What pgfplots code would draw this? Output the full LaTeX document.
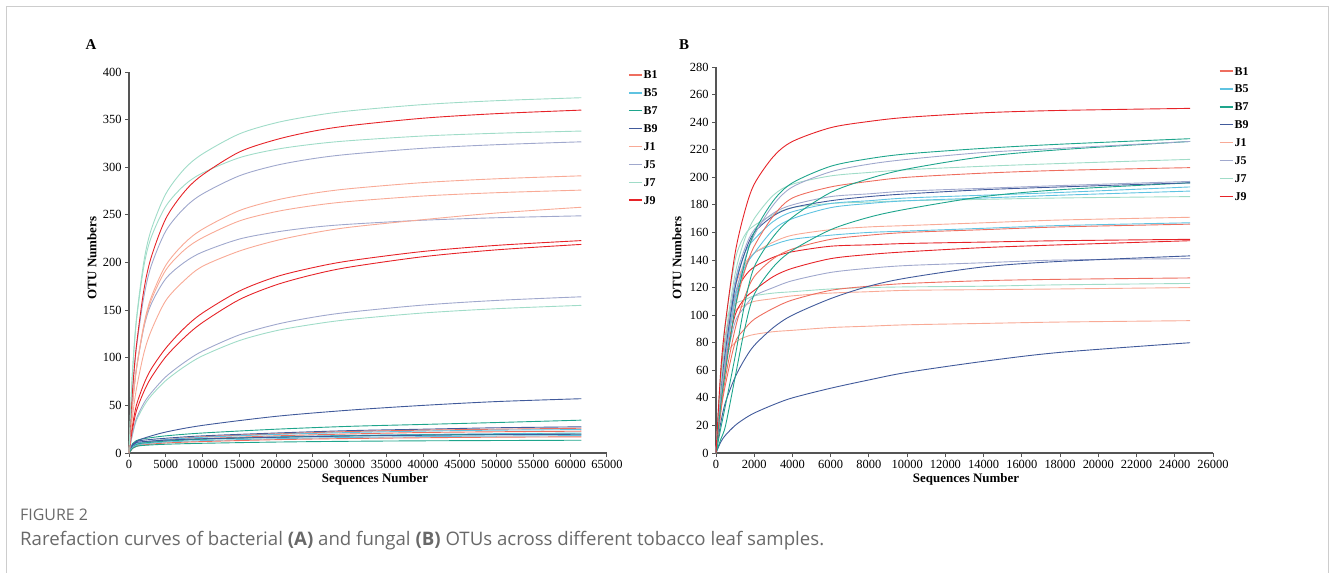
\documentclass[border=0pt]{standalone}
\usepackage{fontspec}
\setmainfont{Liberation Serif}
\newfontfamily\capfont{Open Sans}
\usepackage{pgfplots}
\pgfplotsset{compat=1.18}
\usepackage{pgfplotstable}
\definecolor{cB1}{RGB}{238,110,95}
\definecolor{cB5}{RGB}{95,195,225}
\definecolor{cB7}{RGB}{30,165,140}
\definecolor{cB9}{RGB}{65,90,155}
\definecolor{cJ1}{RGB}{248,170,150}
\definecolor{cJ5}{RGB}{160,168,205}
\definecolor{cJ7}{RGB}{160,220,200}
\definecolor{cJ9}{RGB}{230,35,40}
\definecolor{axgray}{RGB}{85,85,85}
\definecolor{framegray}{RGB}{205,205,205}
\definecolor{capgray}{RGB}{105,105,105}

% Panel A, high (J) curves
\pgfplotstableread{
x J7a J9a J7b J5a J1a J1b J1c J5b J9b J9c J5c J7c
0 0 0 0 0 0 0 0 0 0 0 0 0
250 50 38 50 38 30 30 22 30 18 15 12 11
500 88 68 88 67 53 53 40 53 30 26 21 20
1000 140 112 138 110 88 87 67 88 50 44 36 34
2000 200 170 195 163 134 132 104 131 72 64 52 49
3000 234 205 226 196 163 160 128 156 88 79 63 60
5000 272 246 259 233 197 192 160 183 110 101 80 76
7500 298 274 281 257 220 213 181 200 131 121 95 90.5
10000 314 292 294 272 235 226 196 211 147 137 107 102
15000 335 316 310 291 254.5 243.6 212 224.6 170 161 124 118
20000 346.7 329 318.8 302 265.5 253.4 223 232 185 176.5 135 128.4
25000 354 337.8 324.2 309 272.6 259.7 231 237 194.6 187.2 142.5 135.1
30000 359.2 343.7 327.9 313.7 277.5 264.1 237 240.2 201.8 195.2 147.9 140.2
40000 365.8 351.5 332.8 319.9 283.9 269.8 245 244.4 211.6 206.1 155.3 147
50000 369.9 356.3 335.7 323.7 287.9 273.3 252 247 218 213.3 160.2 151.5
61500 373 360 338 326.7 291 276 258 249 223 219 164 155
}\tAhigh

% Panel A, low (B) curves
\pgfplotstableread{
x B7a B9a B9b B1a B5a B1b B5b B7b B9c B5c B1c B7c
0 0 0 0 0 0 0 0 0 0 0 0 0
500 10 8 9 7 7 6 7 6 8 6 5 5
1000 13 12 12 9 10 8 9 9 11 8 7 7
2000 15 15.5 13.5 11 11.5 10 10.5 10.5 12 9.5 8.5 8
5000 18 22 15.5 14 14 12.5 12.5 12.5 13.5 11.5 10.5 9.2
10000 21 29 18 17 16.5 15 14.5 14.5 15 13 12 10.2
20000 25 38.5 21 20 19.5 18 17 16.5 16.5 15 14 11.5
30000 28 45 23.5 22.5 21.5 20 18.5 18 17.8 16.3 15.2 12.3
40000 30 50 25 24 23 21.5 19.5 19 18.6 17.2 16 12.8
50000 32 54 26.5 25 24 22.3 20.3 19.5 19.2 17.8 16.6 13.1
61500 34.5 57 27.5 26 24.6 22.9 21 20 19.7 18.3 17 13.4
}\tAlow

% Panel B
\pgfplotstableread{
x J9a B7a J5a B7b J7a B1a J5b B9a B7c B5a B5b J7b J1a B5c B1b J9b J9c B9b J5c B1c J7c J1b J1c B9c
0 0 0 0 0 0 0 0 0 0 0 0 0 0 0 0 0 0 0 0 0 0 0 0 0
250 60 35 40 18 50 35 50 45 10 45 40 60 45 40 30 55 40 22 40 30 55 50 45 8
500 95 60 68 35 85 62 80 75 20 75 70 95 80 70 55 85 68 37 65 50 95 85 70 13
1000 145 105 112 70 130 105 125 120 55 122 115 140 120 110 90 115 100 55 95 80 108 103 80 20
1500 175 138 140 108 155 132 148 145 90 145 135 158 137 133 113 128 112 68 106 90 111 107 84 25
2000 195 160 158 135 170 150 162 160 115 155 145 165 145 145 128 135 118 78 114 97 114 110 86 29
3000 215 183 180 157 187 172 174 172 135 168 162 173 153 151 141 142 128 91 120 105 116 112 88 35
4000 226 196 193 171 195 185 180 178 147 175 170 178 158 155 148 146 134 100 125 111 117 114 89 40
6000 236 208 204 189 201 193 186 183 162 181 178 181 162 158 155 150 141 112 131 118 119 116 91 47
8000 240.5 213.5 209.5 199 203.5 197 188 186 171 183 181 182 164 160 158 151 144 121 134 121 120 117 92 53
10000 243.5 217 213 206 205.5 200 190 188 177 185 183 183 165 161 160 152 146 127 136 123 120.5 118 93 58.5
14000 246.8 221 218 215 208 203 192 191 186 187 185 184 167 163 162 153 149 135 138 125 121 118.5 94 66.5
18000 248.5 224 221 220 210 205 194 193 191 189 187 185 169 165 164 154 151 139 140 126 122 119 95 73
24800 250 228 226 226 213 207 197 196 196 193 190 186 171 167 166 155 154 143 141 127 123 120 96 80
}\tB

\pgfplotsset{
  panel/.style={
    scale only axis, clip=false,
    axis lines=left,
    axis line style={-, draw=axgray, line width=1.1bp},
    tick style={draw=axgray, line width=1bp},
    major tick length=4bp, tick align=outside,
    ticklabel style={font=\fontsize{12.5}{12.5}\selectfont, text=black},
    /pgf/number format/assume math mode=true,
    /pgf/number format/1000 sep={},
    scaled x ticks=false, scaled y ticks=false,
    every axis plot/.append style={line width=0.9bp, mark=none, smooth, tension=0.5},
    legend cell align=left,
    legend style={draw=none, fill=none, inner sep=0pt, outer sep=0pt,
      font=\bfseries\fontsize{12}{12}\selectfont, row sep=7.5bp,
      nodes={inner sep=1.2bp, text height=8bp, text depth=0bp}},
    legend image code/.code={\draw[##1, line width=1.5bp, sharp plot] (0bp,0bp) -- (13bp,0bp);},
  }
}

\begin{document}
\begin{tikzpicture}
\useasboundingbox (0,0) rectangle (1330bp,-573bp);
\draw[framegray, line width=1bp] (6.5bp,-573bp) -- (6.5bp,-6.5bp) -- (1328.5bp,-6.5bp) -- (1328.5bp,-573bp);

% ---------------- Panel A ----------------
\begin{axis}[panel,
  at={(129bp,-453bp)}, anchor=south west,
  width=478bp, height=381bp,
  xmin=0, xmax=65000, ymin=0, ymax=400,
  xtick={0,5000,...,65000}, ytick={0,50,...,400},
  legend style={at={(1.044,1.006)}, anchor=north west},
]
\addlegendimage{cB1}\addlegendentry{B1}
\addlegendimage{cB5}\addlegendentry{B5}
\addlegendimage{cB7}\addlegendentry{B7}
\addlegendimage{cB9}\addlegendentry{B9}
\addlegendimage{cJ1}\addlegendentry{J1}
\addlegendimage{cJ5}\addlegendentry{J5}
\addlegendimage{cJ7}\addlegendentry{J7}
\addlegendimage{cJ9}\addlegendentry{J9}
\addplot[cB7, forget plot] table[x=x, y=B7a] {\tAlow};
\addplot[cB9, forget plot] table[x=x, y=B9a] {\tAlow};
\addplot[cB9, forget plot] table[x=x, y=B9b] {\tAlow};
\addplot[cB1, forget plot] table[x=x, y=B1a] {\tAlow};
\addplot[cB5, forget plot] table[x=x, y=B5a] {\tAlow};
\addplot[cB1, forget plot] table[x=x, y=B1b] {\tAlow};
\addplot[cB5, forget plot] table[x=x, y=B5b] {\tAlow};
\addplot[cB7, forget plot] table[x=x, y=B7b] {\tAlow};
\addplot[cB9, forget plot] table[x=x, y=B9c] {\tAlow};
\addplot[cB5, forget plot] table[x=x, y=B5c] {\tAlow};
\addplot[cB1, forget plot] table[x=x, y=B1c] {\tAlow};
\addplot[cB7, forget plot] table[x=x, y=B7c] {\tAlow};
\addplot[cJ7, forget plot] table[x=x, y=J7c] {\tAhigh};
\addplot[cJ5, forget plot] table[x=x, y=J5c] {\tAhigh};
\addplot[cJ9, forget plot] table[x=x, y=J9c] {\tAhigh};
\addplot[cJ9, forget plot] table[x=x, y=J9b] {\tAhigh};
\addplot[cJ5, forget plot] table[x=x, y=J5b] {\tAhigh};
\addplot[cJ1, forget plot] table[x=x, y=J1c] {\tAhigh};
\addplot[cJ1, forget plot] table[x=x, y=J1b] {\tAhigh};
\addplot[cJ1, forget plot] table[x=x, y=J1a] {\tAhigh};
\addplot[cJ5, forget plot] table[x=x, y=J5a] {\tAhigh};
\addplot[cJ7, forget plot] table[x=x, y=J7b] {\tAhigh};
\addplot[cJ9, forget plot] table[x=x, y=J9a] {\tAhigh};
\addplot[cJ7, forget plot] table[x=x, y=J7a] {\tAhigh};
\end{axis}

% ---------------- Panel B ----------------
\begin{axis}[panel,
  at={(716bp,-453bp)}, anchor=south west,
  width=497bp, height=386bp,
  xmin=0, xmax=26000, ymin=0, ymax=280,
  xtick={0,2000,...,26000}, ytick={0,20,...,280},
  legend style={at={(1.012,1.003)}, anchor=north west},
]
\addlegendimage{cB1}\addlegendentry{B1}
\addlegendimage{cB5}\addlegendentry{B5}
\addlegendimage{cB7}\addlegendentry{B7}
\addlegendimage{cB9}\addlegendentry{B9}
\addlegendimage{cJ1}\addlegendentry{J1}
\addlegendimage{cJ5}\addlegendentry{J5}
\addlegendimage{cJ7}\addlegendentry{J7}
\addlegendimage{cJ9}\addlegendentry{J9}
\addplot[cB9, forget plot] table[x=x, y=B9c] {\tB};
\addplot[cJ1, forget plot] table[x=x, y=J1c] {\tB};
\addplot[cJ1, forget plot] table[x=x, y=J1b] {\tB};
\addplot[cJ7, forget plot] table[x=x, y=J7c] {\tB};
\addplot[cB1, forget plot] table[x=x, y=B1c] {\tB};
\addplot[cJ5, forget plot] table[x=x, y=J5c] {\tB};
\addplot[cB9, forget plot] table[x=x, y=B9b] {\tB};
\addplot[cJ9, forget plot] table[x=x, y=J9c] {\tB};
\addplot[cJ9, forget plot] table[x=x, y=J9b] {\tB};
\addplot[cB1, forget plot] table[x=x, y=B1b] {\tB};
\addplot[cB5, forget plot] table[x=x, y=B5c] {\tB};
\addplot[cJ1, forget plot] table[x=x, y=J1a] {\tB};
\addplot[cJ7, forget plot] table[x=x, y=J7b] {\tB};
\addplot[cB5, forget plot] table[x=x, y=B5b] {\tB};
\addplot[cB5, forget plot] table[x=x, y=B5a] {\tB};
\addplot[cB7, forget plot] table[x=x, y=B7c] {\tB};
\addplot[cB9, forget plot] table[x=x, y=B9a] {\tB};
\addplot[cJ5, forget plot] table[x=x, y=J5b] {\tB};
\addplot[cB1, forget plot] table[x=x, y=B1a] {\tB};
\addplot[cJ7, forget plot] table[x=x, y=J7a] {\tB};
\addplot[cB7, forget plot] table[x=x, y=B7b] {\tB};
\addplot[cJ5, forget plot] table[x=x, y=J5a] {\tB};
\addplot[cB7, forget plot] table[x=x, y=B7a] {\tB};
\addplot[cJ9, forget plot] table[x=x, y=J9a] {\tB};
\end{axis}

% ---------------- Labels ----------------
\node[font=\bfseries\fontsize{15}{15}\selectfont] at (91bp,-45bp) {A};
\node[font=\bfseries\fontsize{15}{15}\selectfont] at (684bp,-45bp) {B};
\node[rotate=90, font=\bfseries\fontsize{13}{13}\selectfont] at (92bp,-258bp) {OTU Numbers};
\node[rotate=90, font=\bfseries\fontsize{13}{13}\selectfont] at (677bp,-258bp) {OTU Numbers};
\node[font=\bfseries\fontsize{13}{13}\selectfont] at (375bp,-479bp) {Sequences Number};
\node[font=\bfseries\fontsize{13}{13}\selectfont] at (966bp,-479bp) {Sequences Number};

% ---------------- Caption ----------------
\node[anchor=west, inner sep=0pt, text=capgray, font=\capfont\fontsize{16}{16}\selectfont] at (20bp,-515bp) {FIGURE 2};
\node[anchor=west, inner sep=0pt, text=capgray, font=\capfont\fontsize{18.7}{18.7}\selectfont] at (20bp,-541bp) {Rarefaction curves of bacterial \textbf{(A)} and fungal \textbf{(B)} OTUs across different tobacco leaf samples.};
\end{tikzpicture}
\end{document}
